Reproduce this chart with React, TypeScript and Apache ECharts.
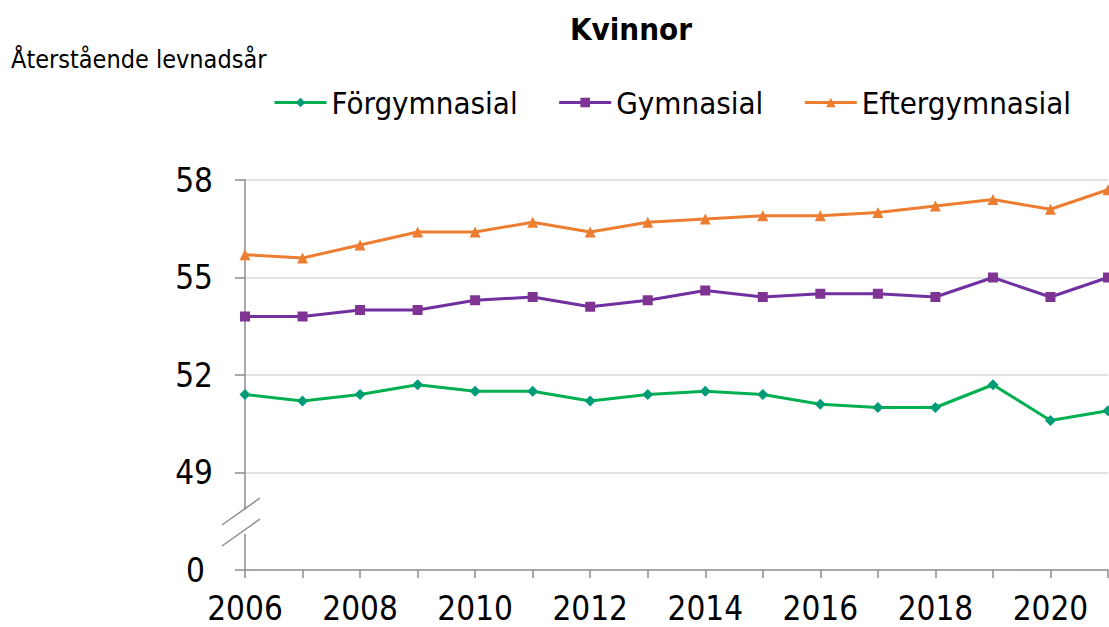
import React, { useEffect, useRef } from "react";
import * as echarts from "echarts";

const years = ["2006","2007","2008","2009","2010","2011","2012","2013","2014","2015","2016","2017","2018","2019","2020","2021"];
const forgymnasial = [51.4, 51.2, 51.4, 51.7, 51.5, 51.5, 51.2, 51.4, 51.5, 51.4, 51.1, 51.0, 51.0, 51.7, 50.6, 50.9];
const gymnasial = [53.8, 53.8, 54.0, 54.0, 54.3, 54.4, 54.1, 54.3, 54.6, 54.4, 54.5, 54.5, 54.4, 55.0, 54.4, 55.0];
const eftergymnasial = [55.7, 55.6, 56.0, 56.4, 56.4, 56.7, 56.4, 56.7, 56.8, 56.9, 56.9, 57.0, 57.2, 57.4, 57.1, 57.7];
const seriesNames = ["Förgymnasial", "Gymnasial", "Eftergymnasial"];
const titleText = "Kvinnor";
const yName = "Återstående levnadsår";
const breakBase = 46; // axis position drawn as "0" below the axis break

const FONT = "'DejaVu Sans Condensed', 'DejaVu Sans', sans-serif";

export default function App() {
  const ref = useRef<HTMLDivElement>(null);
  useEffect(() => {
    document.body.style.margin = "0";
    if (!ref.current) return;
    const chart = echarts.init(ref.current, null, { renderer: "svg" });
    const axisColor = "#8c8c8c";
    const mk = (name: string, data: number[], line: string, marker: string, symbol: string, size: number) => ({
      name,
      type: "line",
      data,
      symbol,
      symbolSize: size,
      showAllSymbol: true,
      lineStyle: { color: line, width: 3 },
      itemStyle: { color: marker, borderWidth: 0 },
      color: line,
    });
    chart.setOption({
      animation: false,
      backgroundColor: "#ffffff",
      textStyle: { fontFamily: FONT },
      title: [
        {
          text: titleText,
          left: 626,
          textAlign: "center",
          top: 8,
          textStyle: { fontFamily: FONT, fontSize: 31, fontWeight: "bold", color: "#000" },
        },
        {
          text: yName,
          left: 6,
          top: 42,
          textStyle: { fontFamily: FONT, fontSize: 25, fontWeight: "normal", color: "#000" },
        },
      ],
      legend: {
        data: seriesNames,
        left: 268,
        top: 82,
        itemWidth: 52,
        itemHeight: 12,
        itemGap: 40,
        lineStyle: { width: 3 },
        textStyle: { fontFamily: FONT, fontSize: 31, color: "#000" },
      },
      grid: { left: 245, right: 1, top: 180, bottom: 57, containLabel: false },
      xAxis: {
        type: "category",
        data: years,
        boundaryGap: false,
        axisLine: { lineStyle: { color: axisColor, width: 1.5 } },
        axisTick: { show: true, interval: 0, length: 8, lineStyle: { color: axisColor, width: 1.5 } },
        axisLabel: { interval: 1, fontFamily: FONT, fontSize: 33, color: "#000", margin: 22 },
        splitLine: { show: false },
      },
      yAxis: {
        type: "value",
        min: breakBase,
        max: 58,
        interval: 3,
        axisLine: { show: true, lineStyle: { color: axisColor, width: 1.5 } },
        axisTick: { show: true, length: 10, lineStyle: { color: axisColor, width: 1.5 } },
        axisLabel: {
          fontFamily: FONT,
          fontSize: 33,
          color: "#000",
          margin: 32,
          formatter: (v: number) => (v === breakBase ? "{z|0}" : String(v)),
          rich: { z: { fontFamily: FONT, fontSize: 33, color: "#000", padding: [0, 8, 0, 0] } },
        },
        splitLine: {
          show: true,
          lineStyle: { color: "#d9d9d9", width: 1.5 },
          showMinLine: false,
        },
      },
      graphic: [
        { type: "rect", shape: { x: 241, y: 510, width: 8, height: 24 }, style: { fill: "#ffffff" }, z: 100 },
        { type: "line", shape: { x1: 222, y1: 525, x2: 260, y2: 498 }, style: { stroke: axisColor, lineWidth: 1.5 }, z: 101 },
        { type: "line", shape: { x1: 222, y1: 546, x2: 260, y2: 519 }, style: { stroke: axisColor, lineWidth: 1.5 }, z: 101 },
      ],
      series: [
        mk(seriesNames[0], forgymnasial, "#00b050", "#009b77", "diamond", 11),
        mk(seriesNames[1], gymnasial, "#7030a0", "#7f3493", "rect", 10),
        mk(seriesNames[2], eftergymnasial, "#ed7d31", "#ed7d31", "triangle", 11),
      ],
    });
    return () => chart.dispose();
  }, []);
  return <div ref={ref} style={{ width: 1109, height: 627 }} />;
}
